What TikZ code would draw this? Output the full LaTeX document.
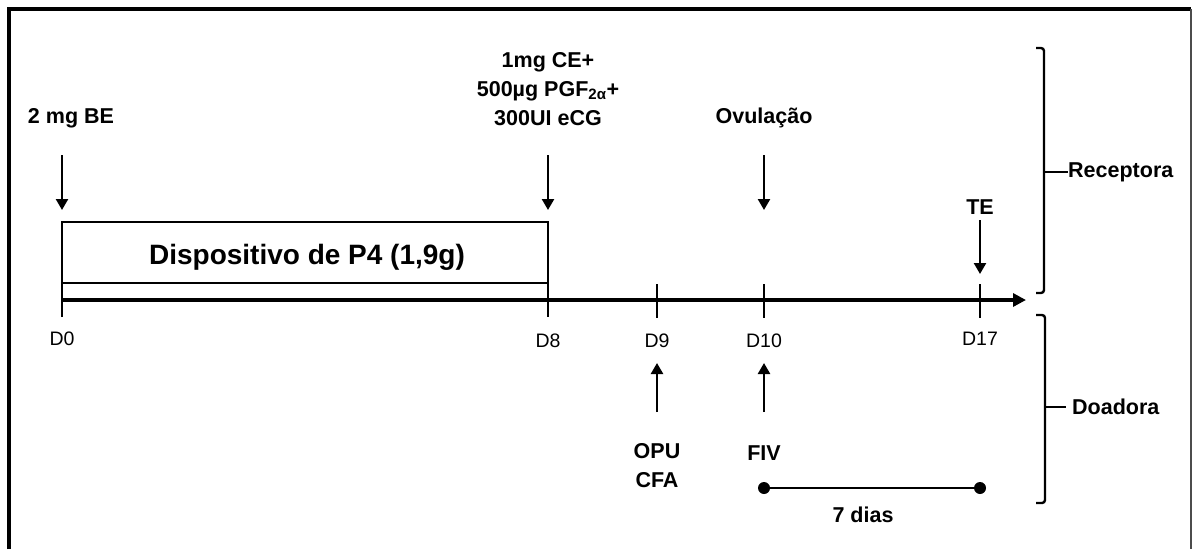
\documentclass[tikz,border=0pt]{standalone}
\usepackage{fontspec}
\setmainfont{Liberation Sans}
\usetikzlibrary{arrows.meta}
\begin{document}
\begin{tikzpicture}[x=1pt,y=-1pt,
  lbl/.style={font=\fontsize{21.5}{29}\selectfont\bfseries, inner sep=0pt, align=center},
  dlbl/.style={font=\fontsize{19.5}{23}\selectfont, inner sep=0pt},
  boxtxt/.style={font=\fontsize{28}{32}\selectfont\bfseries, inner sep=0pt},
  arr/.style={line width=2.4pt,-{Triangle[length=11pt,width=12pt]}},
  ticksty/.style={line width=2.4pt},
  axissty/.style={line width=3.2pt,-{Triangle[length=13pt,width=13pt]}},
  brk/.style={line width=2.4pt, rounded corners=3pt},
  frame/.style={line width=3.5pt}
]
\useasboundingbox (0,0) rectangle (1194,549);
% frame
\draw[frame] (9,549) -- (9,9) -- (1191,9);
\draw[line width=2.5pt, black!70] (1191,9) -- (1191,549);

% axis points
\coordinate (D0) at (62,300);
\coordinate (D8) at (548,300);
\coordinate (D9) at (657,300);
\coordinate (D10) at (764,300);
\coordinate (D17) at (980,300);
\coordinate (axend) at (1026,300);
\draw[axissty] (D0) -- (axend);

% device box
\coordinate (b0) at (62,317);
\coordinate (b1) at (62,222);
\coordinate (b2) at (548,222);
\coordinate (b3) at (548,317);
\draw[line width=2.4pt] (b0) -- (b1) -- (b2) -- (b3);
\coordinate (bl) at (62,283);
\coordinate (br) at (548,283);
\draw[line width=2.4pt] (bl) -- (br);
\node[boxtxt] (boxlabel) at (307,257) {Dispositivo de P4 (1,9g)};

% ticks
\coordinate (t9a) at (657,284); \coordinate (t9b) at (657,318);
\coordinate (t10a) at (764,284); \coordinate (t10b) at (764,318);
\coordinate (t17a) at (980,284); \coordinate (t17b) at (980,318);
\draw[ticksty] (t9a) -- (t9b);
\draw[ticksty] (t10a) -- (t10b);
\draw[ticksty] (t17a) -- (t17b);

% day labels
\node[dlbl] (lD0) at (62,339) {D0};
\node[dlbl] (lD8) at (548,341) {D8};
\node[dlbl] (lD9) at (657,341) {D9};
\node[dlbl] (lD10) at (764,341) {D10};
\node[dlbl] (lD17) at (980,339) {D17};

% top labels
\node[lbl] (be) at (71,118) {2 mg BE};
\node[lbl] (ce) at (548,89) {1mg CE+\\500µg PGF\textsubscript{2α}+\\300UI eCG};
\node[lbl] (ov) at (764,118) {Ovulação};
\node[lbl] (te) at (980,207) {TE};

% down arrows
\coordinate (a0s) at (62,155); \coordinate (a0e) at (62,210);
\coordinate (a8s) at (548,155); \coordinate (a8e) at (548,210);
\coordinate (aos) at (764,155); \coordinate (aoe) at (764,210);
\coordinate (ates) at (980,220); \coordinate (atee) at (980,274);
\draw[arr] (a0s) -- (a0e);
\draw[arr] (a8s) -- (a8e);
\draw[arr] (aos) -- (aoe);
\draw[arr] (ates) -- (atee);

% up arrows
\coordinate (u9s) at (657,412); \coordinate (u9e) at (657,363);
\coordinate (u10s) at (764,412); \coordinate (u10e) at (764,363);
\draw[arr] (u9s) -- (u9e);
\draw[arr] (u10s) -- (u10e);

% bottom labels
\node[lbl] (opu) at (657,466) {OPU\\CFA};
\node[lbl] (fiv) at (764,453) {FIV};

% 7 dias
\coordinate (p1) at (764,488);
\coordinate (p2) at (980,488);
\draw[line width=2.4pt] (p1) -- (p2);
\fill (p1) circle (6pt);
\fill (p2) circle (6pt);
\node[lbl] (dias) at (863,515) {7 dias};

% brackets
\draw[brk] (1036,48) -- (1044,48) -- (1044,293) -- (1036,293);
\node[lbl, anchor=west] (rec) at (1068,172) {Receptora};
\coordinate (rtick) at (1044,172);
\draw[line width=2.4pt] (rtick) -- (rec.west);

\draw[brk] (1036,315) -- (1045,315) -- (1045,503) -- (1036,503);
\node[lbl, anchor=west] (doa) at (1072,407) {Doadora};
\coordinate (dtick) at (1045,407);
\coordinate (dtickend) at (1066,407);
\draw[line width=2.4pt] (dtick) -- (dtickend);
\end{tikzpicture}
\end{document}
